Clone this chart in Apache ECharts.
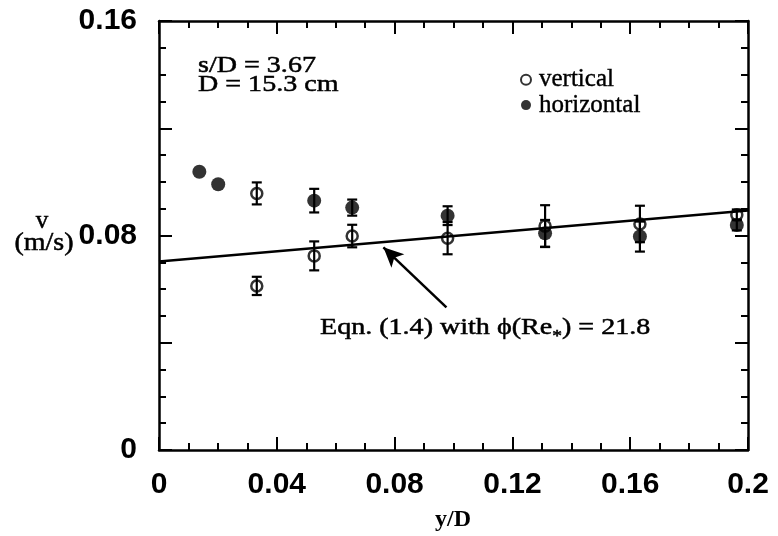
<!DOCTYPE html>
<html>
<head>
<meta charset="utf-8">
<script src="https://cdn.jsdelivr.net/npm/echarts@6/dist/echarts.min.js"></script>
<style>
html,body{margin:0;padding:0;background:#fff;}
#chart{width:778px;height:536px;}
</style>
</head>
<body>
<div id="chart"></div>
<script>
// ---- data ----
const xTickLabels = ['0', '0.04', '0.08', '0.12', '0.16', '0.2'];
const yTickLabels = ['0', '', '0.08', '', '0.16'];

// vertical orientation (open circles): y/D, v, +/- error
const vertX   = [0.0332, 0.0332, 0.0527, 0.0656, 0.0980, 0.1311, 0.1633, 0.1962];
const vertV   = [0.0957, 0.0612, 0.0724, 0.0798, 0.0790, 0.0835, 0.0843, 0.0877];
const vertErr = [0.0041, 0.0034, 0.0054, 0.0042, 0.0060, 0.0078, 0.0068, 0.0020];

// horizontal orientation (filled circles)
const horX   = [0.0137, 0.0201, 0.0527, 0.0656, 0.0980, 0.1311, 0.1633, 0.1962];
const horV   = [0.1038, 0.0991, 0.0930, 0.0904, 0.0874, 0.0808, 0.0796, 0.0839];
const horErr = [0, 0, 0.0044, 0.0030, 0.0035, 0.0050, 0.0056, 0.0020];

// Eqn. (1.4) line
const lineX = [0, 0.2];
const lineV = [0.0703, 0.0893];

// annotation arrow (from text to line), in data units
const arrowFrom = [0.0976, 0.0532];
const arrowTo   = [0.0762, 0.0756];

// ---- build ----
const serif = "'Liberation Serif','Times New Roman',serif";
const sans = "'Liberation Sans',Arial,sans-serif";

const vertPts = vertX.map((x, i) => [x, vertV[i]]);
const horPts = horX.map((x, i) => [x, horV[i]]);
const errData = vertX.map((x, i) => [x, vertV[i], vertErr[i]])
  .concat(horX.map((x, i) => [x, horV[i], horErr[i]]))
  .filter(d => d[2] > 0);
const linePts = lineX.map((x, i) => [x, lineV[i]]);

function errRender(params, api) {
  const x = api.value(0), y = api.value(1), e = api.value(2);
  const hi = api.coord([x, y + e]);
  const lo = api.coord([x, y - e]);
  const cap = 5;
  const st = { stroke: '#000', lineWidth: 2.2 };
  return {
    type: 'group',
    children: [
      { type: 'line', shape: { x1: hi[0], y1: hi[1], x2: lo[0], y2: lo[1] }, style: st },
      { type: 'line', shape: { x1: hi[0] - cap, y1: hi[1], x2: hi[0] + cap, y2: hi[1] }, style: st },
      { type: 'line', shape: { x1: lo[0] - cap, y1: lo[1], x2: lo[0] + cap, y2: lo[1] }, style: st }
    ]
  };
}

const axisLine = { show: true, onZero: false, lineStyle: { color: '#000', width: 2.5 } };
const tick = { show: true, inside: true, length: 13, lineStyle: { color: '#000', width: 2 } };
const minor = { show: true, splitNumber: 4, length: 7, lineStyle: { color: '#000', width: 2 } };
const heavy = { stroke: '#000', lineWidth: 0.5 };

const chart = echarts.init(document.getElementById('chart'), null, { renderer: 'canvas' });
chart.setOption({
  backgroundColor: '#fff',
  animation: false,
  grid: { left: 159, right: 30, top: 21, bottom: 86, containLabel: false },
  xAxis: [
    {
      type: 'value', min: 0, max: 0.2, interval: 0.04, position: 'bottom',
      axisLine, axisTick: tick, minorTick: minor, splitLine: { show: false },
      axisLabel: {
        margin: 20, color: '#000', fontFamily: sans, fontWeight: 'bold', fontSize: 30,
        formatter: v => xTickLabels[Math.round(v / 0.04)] || ''
      }
    },
    {
      type: 'value', min: 0, max: 0.2, interval: 0.04, position: 'top',
      axisLine, axisTick: tick, minorTick: minor, splitLine: { show: false },
      axisLabel: { show: false }
    }
  ],
  yAxis: [
    {
      type: 'value', min: 0, max: 0.16, interval: 0.04, position: 'left',
      axisLine, axisTick: tick, minorTick: minor, splitLine: { show: false },
      axisLabel: {
        margin: 22, color: '#000', fontFamily: sans, fontWeight: 'bold', fontSize: 30,
        formatter: v => yTickLabels[Math.round(v / 0.04)] || ''
      }
    },
    {
      type: 'value', min: 0, max: 0.16, interval: 0.04, position: 'right',
      axisLine, axisTick: tick, minorTick: minor, splitLine: { show: false },
      axisLabel: { show: false }
    }
  ],
  legend: {
    orient: 'vertical', left: 515, top: 62, itemWidth: 10, itemHeight: 10, itemGap: 0,
    icon: 'circle',
    data: ['vertical', 'horizontal'],
    textStyle: { fontFamily: serif, fontSize: 25, color: '#000', lineHeight: 22, padding: [0, 0, 0, 3],
      textBorderColor: '#000', textBorderWidth: 0.4 }
  },
  series: [
    {
      name: 'Eqn. (1.4)', type: 'line', data: linePts, showSymbol: false, z: 2,
      lineStyle: { color: '#000', width: 2.5 },
      markLine: {
        silent: true, symbol: ['none', 'arrow'], symbolSize: [14, 20],
        label: { show: false },
        lineStyle: { color: '#000', width: 2.5, type: 'solid' },
        data: [[{ coord: arrowFrom }, { coord: arrowTo }]]
      }
    },
    {
      name: 'errors', type: 'custom', renderItem: errRender, data: errData, z: 3,
      encode: { x: 0, y: 1 }
    },
    {
      name: 'vertical', type: 'scatter', data: vertPts, symbol: 'circle', symbolSize: 11, z: 4,
      itemStyle: { color: 'rgba(0,0,0,0)', borderColor: '#000', borderWidth: 2.5 }
    },
    {
      name: 'horizontal', type: 'scatter', data: horPts, symbol: 'circle', symbolSize: 14, z: 5,
      itemStyle: { color: '#000' }
    }
  ],
  graphic: [
    { type: 'text', x: 198, y: 66, scaleX: 1.22, style: Object.assign({ text: 's/D = 3.67', font: '23px ' + serif, fill: '#000', textVerticalAlign: 'middle' }, heavy) },
    { type: 'text', x: 198, y: 85, scaleX: 1.22, style: Object.assign({ text: 'D = 15.3 cm', font: '23px ' + serif, fill: '#000', textVerticalAlign: 'middle' }, heavy) },
    { type: 'text', x: 320, y: 328, scaleX: 1.22, style: Object.assign({
        text: 'Eqn. (1.4) with ϕ(Re{s|*}) = 21.8', font: '23px ' + serif, fill: '#000', textVerticalAlign: 'middle',
        rich: { s: { fontFamily: serif, fontSize: 16, padding: [18, 0, 0, 0] } } }, heavy) },
    { type: 'text', x: 453, y: 520, style: { text: 'y/D', font: 'bold 24px ' + serif, fill: '#000', textAlign: 'center', textVerticalAlign: 'middle' } },
    { type: 'text', x: 42, y: 221, style: Object.assign({ text: 'v', font: '25px ' + serif, fill: '#000', textAlign: 'center', textVerticalAlign: 'middle' }, heavy) },
    { type: 'text', x: 44, y: 243, scaleX: 1.12, style: Object.assign({ text: '(m/s)', font: '25px ' + serif, fill: '#000', textAlign: 'center', textVerticalAlign: 'middle' }, heavy) }
  ]
});
</script>
</body>
</html>
